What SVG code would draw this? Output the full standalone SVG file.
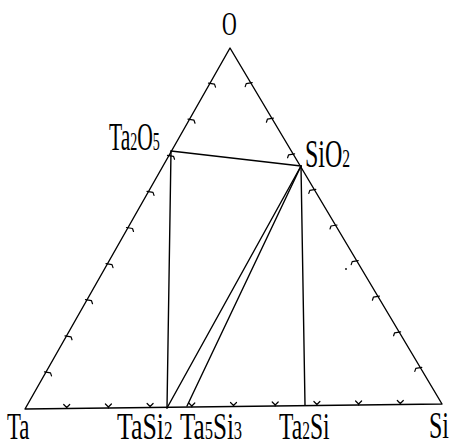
<svg xmlns="http://www.w3.org/2000/svg" width="454" height="447" viewBox="0 0 454 447">
<style>
.ln{fill:none;stroke:#000;stroke-width:1.4;stroke-linecap:round;stroke-linejoin:round}
.tk{fill:none;stroke:#000;stroke-width:1.2;stroke-linecap:round;stroke-linejoin:round}
.lb{font-family:"Liberation Serif","Times New Roman",serif;font-size:40px;fill:#000}
.bt{font-size:38px}
.sb{font-size:26px}
.bt .sb{font-size:25px}
</style>
<defs>
<path id="tl" d="M-1,-1 L5,0 L6,3"/>
<path id="tr" d="M1,-1 L-5,0 L-6,3"/>
<path id="tb" d="M-3,-4 L0,-1 L3,-4 M0,-1 L0,0"/>
</defs>
<rect width="454" height="447" fill="#fff"/>
<g id="connectors">
<path class="ln" d="M230,48 L25,409 L442,404 Z"/>
<path class="ln" d="M171,151 L301,166"/>
<path class="ln" d="M171,151 L167,408"/>
<path class="ln" d="M301,166 L167,408"/>
<path class="ln" d="M301,166 L187,406"/>
<path class="ln" d="M301,166 L305,405"/>
</g>
<g id="ticks" class="tk">
<use href="#tl" x="209.5" y="84.1"/>
<use href="#tl" x="189" y="120.2"/>
<use href="#tl" x="168.5" y="156.3"/>
<use href="#tl" x="148" y="192.4"/>
<use href="#tl" x="127.5" y="228.5"/>
<use href="#tl" x="107" y="264.6"/>
<use href="#tl" x="86.5" y="300.7"/>
<use href="#tl" x="66" y="336.8"/>
<use href="#tl" x="45.5" y="372.9"/>
<use href="#tr" x="251.2" y="83.6"/>
<use href="#tr" x="272.4" y="119.2"/>
<use href="#tr" x="293.6" y="154.8"/>
<use href="#tr" x="314.8" y="190.4"/>
<use href="#tr" x="336" y="226"/>
<use href="#tr" x="357.2" y="261.6"/>
<use href="#tr" x="378.4" y="297.2"/>
<use href="#tr" x="399.6" y="332.8"/>
<use href="#tr" x="420.8" y="368.4"/>
<use href="#tb" x="66.7" y="408.5"/>
<use href="#tb" x="108.4" y="408"/>
<use href="#tb" x="150.1" y="407.5"/>
<use href="#tb" x="191.8" y="407"/>
<use href="#tb" x="233.5" y="406.5"/>
<use href="#tb" x="275.2" y="406"/>
<use href="#tb" x="316.9" y="405.5"/>
<use href="#tb" x="358.6" y="405"/>
<use href="#tb" x="400.3" y="404.5"/>
</g>
<circle cx="346" cy="269" r="0.9" fill="#000"/>
<g id="node-O"><text class="lb" style="font-size:34px" transform="translate(222,35) scale(0.6,1)">O</text></g>
<g id="node-Ta2O5"><text class="lb" transform="translate(109,150) scale(0.54,1)">Ta<tspan class="sb">2</tspan>O<tspan class="sb">5</tspan></text></g>
<g id="node-SiO2"><text class="lb" transform="translate(305,167) scale(0.6,1)">SiO<tspan class="sb">2</tspan></text></g>
<g id="node-Ta"><text class="lb bt" transform="translate(7,438.5) scale(0.6,1)">Ta</text></g>
<g id="node-TaSi2"><text class="lb bt" transform="translate(117,438.5) scale(0.68,1)">TaSi<tspan class="sb">2</tspan></text></g>
<g id="node-Ta5Si3"><text class="lb bt" transform="translate(180,438.5) scale(0.66,1)">Ta<tspan class="sb">5</tspan>Si<tspan class="sb">3</tspan></text></g>
<g id="node-Ta2Si"><text class="lb bt" transform="translate(279,438.5) scale(0.62,1)">Ta<tspan class="sb">2</tspan>Si</text></g>
<g id="node-Si"><text class="lb bt" transform="translate(429,438) scale(0.63,1)">Si</text></g>
</svg>
